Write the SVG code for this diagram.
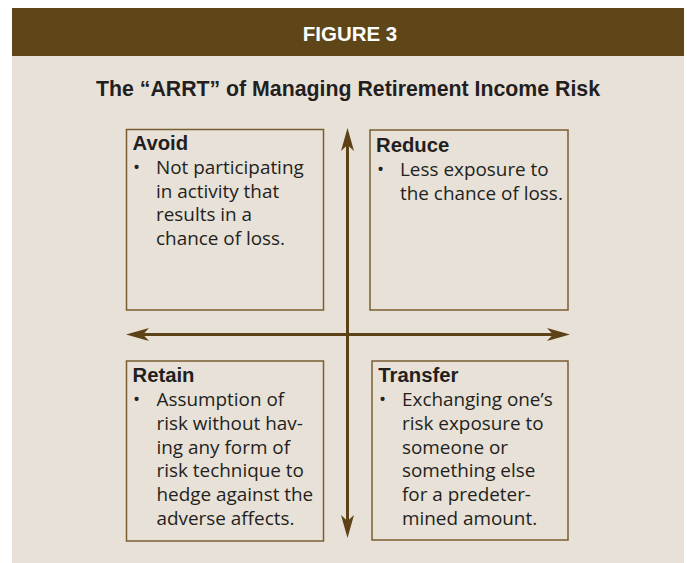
<svg xmlns="http://www.w3.org/2000/svg" width="687" height="563" viewBox="0 0 687 563">
  <style>
    .panel { fill: #e8e1d8; }
    .band { fill: #5f4619; }
    .fig { font-family: "Liberation Sans", Arial, sans-serif; font-weight: bold; font-size: 20.5px; fill: #ffffff; }
    .title { font-family: "Liberation Sans", Arial, sans-serif; font-weight: bold; font-size: 21.3px; fill: #231f20; }
    .box { fill: none; stroke: #7a5e32; stroke-width: 1.5; }
    .head { font-family: "Liberation Sans", Arial, sans-serif; font-weight: bold; font-size: 20.3px; fill: #231f20; }
    .body { font-family: "Open Sans", "Liberation Sans", sans-serif; font-size: 18.9px; fill: #231f20; }
    .axis { stroke: #5c4216; stroke-width: 3; fill: none; }
  </style>
  <defs>
    <marker id="barb" viewBox="0 -7 24 14" refX="16" refY="0" markerWidth="24" markerHeight="14" markerUnits="userSpaceOnUse" orient="auto-start-reverse">
      <path d="M24,0 L1,-6.5 L7,0 L1,6.5 Z" fill="#5c4216"/>
    </marker>
  </defs>

  <!-- background panel and header band -->
  <rect class="panel" x="12" y="8" width="672" height="555"/>
  <rect class="band" x="12" y="8" width="672" height="48"/>
  <text class="fig" x="350" y="41" text-anchor="middle">FIGURE 3</text>
  <text class="title" x="348" y="96" text-anchor="middle">The “ARRT” of Managing Retirement Income Risk</text>

  <!-- axes -->
  <g id="connectors">
    <line class="axis" x1="134" y1="334.5" x2="562" y2="334.5" marker-start="url(#barb)" marker-end="url(#barb)"/>
    <line class="axis" x1="347.5" y1="136" x2="347.5" y2="530" marker-start="url(#barb)" marker-end="url(#barb)"/>
  </g>

  <g id="avoid">
    <rect class="box" x="126.5" y="129.5" width="197" height="180.5"/>
    <text class="head" x="132.5" y="150">Avoid</text>
    <text class="body" x="133" y="174">•</text>
    <text class="body" x="156" y="174">Not participating</text>
    <text class="body" x="156" y="197.7">in activity that</text>
    <text class="body" x="156" y="221.3">results in a</text>
    <text class="body" x="156" y="245">chance of loss.</text>
  </g>

  <g id="reduce">
    <rect class="box" x="370" y="130" width="198" height="180"/>
    <text class="head" x="376" y="151.5">Reduce</text>
    <text class="body" x="377" y="175.5">•</text>
    <text class="body" x="400" y="175.5">Less exposure to</text>
    <text class="body" x="400" y="199.5">the chance of loss.</text>
  </g>

  <g id="retain">
    <rect class="box" x="126.5" y="361" width="197" height="180"/>
    <text class="head" x="132.5" y="381.7">Retain</text>
    <text class="body" x="133" y="406">•</text>
    <text class="body" x="156.5" y="406">Assumption of</text>
    <text class="body" x="156.5" y="429.7">risk without hav-</text>
    <text class="body" x="156.5" y="453.5">ing any form of</text>
    <text class="body" x="156.5" y="477.3">risk technique to</text>
    <text class="body" x="156.5" y="501.2">hedge against the</text>
    <text class="body" x="156.5" y="525">adverse affects.</text>
  </g>

  <g id="transfer">
    <rect class="box" x="372" y="361" width="196" height="179"/>
    <text class="head" x="378.3" y="381.7">Transfer</text>
    <text class="body" x="379" y="406">•</text>
    <text class="body" x="402" y="406">Exchanging one’s</text>
    <text class="body" x="402" y="429.7">risk exposure to</text>
    <text class="body" x="402" y="453.5">someone or</text>
    <text class="body" x="402" y="477.3">something else</text>
    <text class="body" x="402" y="501.2">for a predeter-</text>
    <text class="body" x="402" y="525">mined amount.</text>
  </g>
</svg>
